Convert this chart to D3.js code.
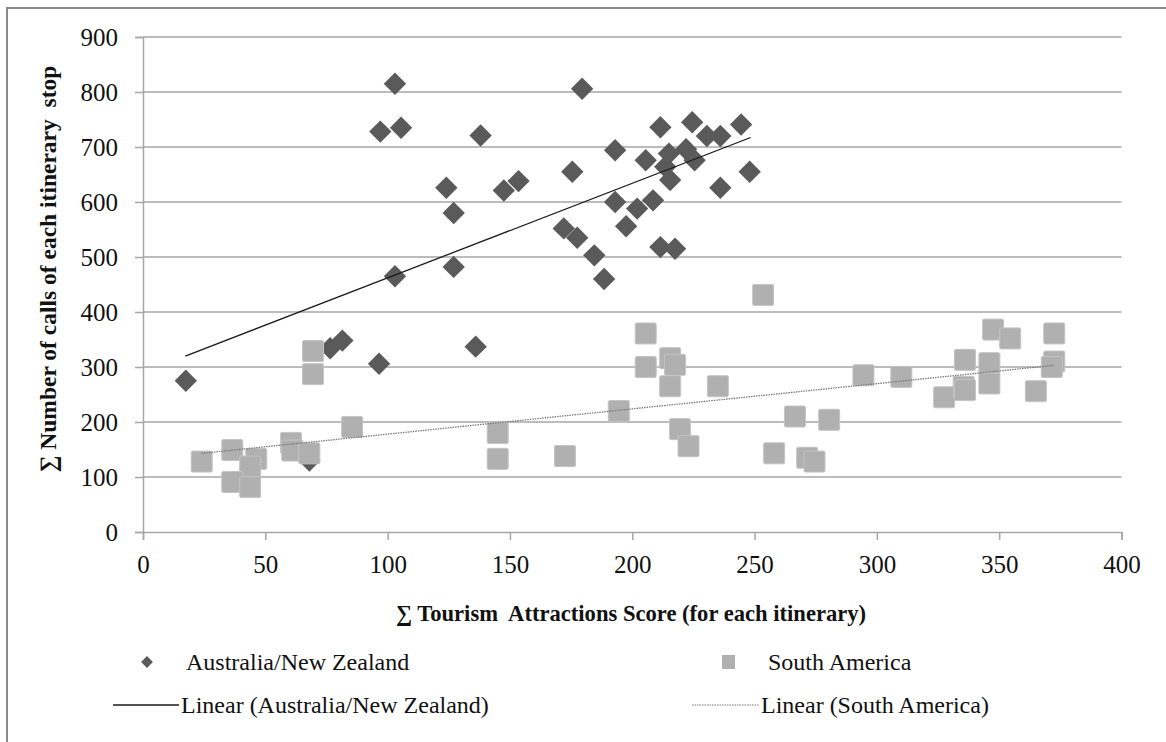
<!DOCTYPE html>
<html>
<head>
  <meta charset="utf-8">
  <title>Tourism score vs calls</title>
  <style>
    body { margin: 0; background: #fff; }
    svg text { font-family: "Liberation Serif", "Times New Roman", serif; fill: #111; }
  </style>
  <script src="https://d3js.org/d3.v7.min.js"></script>
</head>
<body>
<svg id="chart" width="1166" height="742"></svg>
<script>
  // Australia/New Zealand points
  const ausX = [17.5, 76.5, 81.5, 96.5, 136, 68, 103, 97, 105.5, 138, 124, 127, 147.5, 153.5, 127, 103,
    179.5, 211.5, 224.5, 230.5, 236, 244.5, 193, 205.5, 215, 222, 225.5, 213.5, 215.5, 175.5, 248,
    193, 202, 208.5, 236, 172, 177.5, 197.5, 211.5, 217.5, 184.5, 188.5];
  const ausY = [275, 334, 348, 306, 337, 130, 815, 728, 735, 721, 626, 580, 621, 638, 482, 465,
    806, 736, 745, 720, 720, 741, 694, 676, 688, 696, 676, 664, 640, 655, 655,
    600, 588, 603, 626, 552, 535, 556, 518, 515, 503, 460];

  // South America points
  const saX = [24, 36.5, 46.3, 43.8, 36.5, 43.8, 60.5, 61, 68, 69.5, 69.5, 85.5, 145, 145, 172.5,
    194.5, 205.5, 205.5, 215.5, 217.5, 215.5, 235, 219.5, 223, 253.5, 258, 266.5, 271.5, 274.5,
    280.5, 294.5, 310, 327.5, 336, 335.5, 336, 346, 346, 347.5, 354.5, 365, 372.5, 372.5, 371.5];
  const saY = [128, 149, 133, 119, 91, 82, 162, 148, 143, 329, 287, 191, 180, 133, 138,
    220, 361, 300, 316, 304, 265, 265, 187, 156, 431, 143, 210, 135, 128,
    204, 285, 282, 245, 313, 264, 258, 307, 270, 368, 352, 256, 361, 310, 300];

  // trend line end points
  const trendAusX = [17.3, 248.4];
  const trendAusY = [319.8, 717.3];
  const trendSaX = [23.9, 372.3];
  const trendSaY = [143, 303];

  const xTicks = [0, 50, 100, 150, 200, 250, 300, 350, 400];
  const yTicks = [0, 100, 200, 300, 400, 500, 600, 700, 800, 900];

  const svg = d3.select("#chart");

  // outer frame
  svg.append("rect")
    .attr("x", 7).attr("y", 8)
    .attr("width", 1180).attr("height", 760)
    .attr("fill", "none")
    .attr("stroke", "#8a8a8a")
    .attr("stroke-width", 2);

  const x = d3.scaleLinear().domain([0, 400]).range([143, 1121.5]);
  const y = d3.scaleLinear().domain([0, 900]).range([532, 37]);

  // gridlines
  svg.append("g")
    .selectAll("line")
    .data(yTicks.filter(function (d) { return d > 0; }))
    .enter()
    .append("line")
    .attr("x1", x(0)).attr("x2", x(400))
    .attr("y1", function (d) { return y(d); })
    .attr("y2", function (d) { return y(d); })
    .attr("stroke", "#a6a6a6")
    .attr("stroke-width", 1.5);

  // y axis
  const yAxis = svg.append("g")
    .attr("transform", "translate(" + x(0) + ",0)")
    .call(d3.axisLeft(y).tickValues(yTicks).tickSize(8).tickPadding(17));
  // x axis
  const xAxis = svg.append("g")
    .attr("transform", "translate(0," + y(0) + ")")
    .call(d3.axisBottom(x).tickValues(xTicks).tickSize(8).tickPadding(15));

  [xAxis, yAxis].forEach(function (a) {
    a.select(".domain").attr("stroke", "#a6a6a6").attr("stroke-width", 1.5);
    a.selectAll(".tick line").attr("stroke", "#a6a6a6").attr("stroke-width", 1.5);
    a.selectAll(".tick text")
      .style("font-family", "Liberation Serif, serif")
      .style("font-size", "25px")
      .attr("fill", "#111");
  });

  // diamonds
  const diamond = d3.symbol().type(d3.symbolSquare).size(250);
  svg.append("g")
    .selectAll("path")
    .data(ausX.map(function (v, i) { return [v, ausY[i]]; }))
    .enter()
    .append("path")
    .attr("d", diamond)
    .attr("transform", function (d) { return "translate(" + x(d[0]) + "," + y(d[1]) + ") rotate(45)"; })
    .attr("fill", "#5a5a5a");

  // squares
  svg.append("g")
    .selectAll("rect")
    .data(saX.map(function (v, i) { return [v, saY[i]]; }))
    .enter()
    .append("rect")
    .attr("x", function (d) { return x(d[0]) - 10.5; })
    .attr("y", function (d) { return y(d[1]) - 10.5; })
    .attr("width", 21).attr("height", 21)
    .attr("rx", 1.5)
    .attr("fill", "#b0b0b0")
    .attr("stroke", "#c4c4c4")
    .attr("stroke-width", 1);

  // trend lines
  const line = d3.line().x(function (d) { return x(d[0]); }).y(function (d) { return y(d[1]); });
  svg.append("path")
    .attr("d", line(trendAusX.map(function (v, i) { return [v, trendAusY[i]]; })))
    .attr("stroke", "#1a1a1a").attr("stroke-width", 1.3).attr("fill", "none");
  svg.append("path")
    .attr("d", line(trendSaX.map(function (v, i) { return [v, trendSaY[i]]; })))
    .attr("stroke", "#7a7a7a").attr("stroke-width", 1.3).attr("stroke-dasharray", "1.5,1").attr("fill", "none");

  // axis titles
  svg.append("text")
    .attr("x", 631).attr("y", 621)
    .attr("text-anchor", "middle")
    .style("font-size", "22.6px").style("font-weight", "bold")
    .style("white-space", "pre")
    .text("\u2211 Tourism  Attractions Score (for each itinerary)");

  svg.append("text")
    .attr("transform", "translate(56,269) rotate(-90)")
    .attr("text-anchor", "middle")
    .style("font-size", "23.5px").style("font-weight", "bold")
    .style("white-space", "pre")
    .text("\u2211 Number of calls of each itinerary  stop");

  // legend
  const legend = svg.append("g").style("font-size", "24px");
  legend.append("path")
    .attr("d", d3.symbol().type(d3.symbolSquare).size(70))
    .attr("transform", "translate(147,662) rotate(45)")
    .attr("fill", "#5a5a5a");
  legend.append("text").attr("x", 186).attr("y", 670).text("Australia/New Zealand");
  legend.append("rect")
    .attr("x", 722).attr("y", 655).attr("width", 13).attr("height", 14)
    .attr("fill", "#b0b0b0");
  legend.append("text").attr("x", 768).attr("y", 670).text("South America");
  legend.append("line")
    .attr("x1", 113).attr("x2", 179).attr("y1", 705).attr("y2", 705)
    .attr("stroke", "#1a1a1a").attr("stroke-width", 1.5);
  legend.append("text").attr("x", 181).attr("y", 713).text("Linear (Australia/New Zealand)");
  legend.append("line")
    .attr("x1", 692).attr("x2", 759).attr("y1", 705).attr("y2", 705)
    .attr("stroke", "#7a7a7a").attr("stroke-width", 1.2).attr("stroke-dasharray", "1.5,1");
  legend.append("text").attr("x", 761).attr("y", 713).text("Linear (South America)");
</script>
</body>
</html>
